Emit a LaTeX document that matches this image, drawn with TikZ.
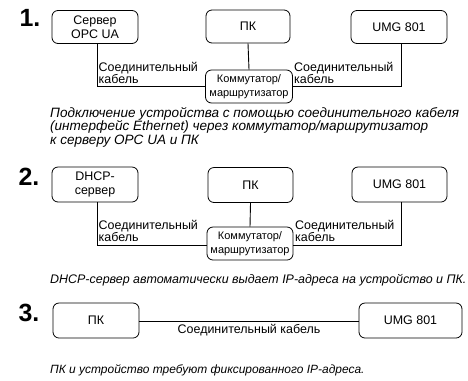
\documentclass[tikz,border=0pt]{standalone}
\usepackage{fontspec}
\setmainfont{Liberation Sans}
\begin{document}
\begin{tikzpicture}[x=1bp,y=-1bp,
  box/.style={draw, rounded corners=6bp, line width=0.8bp, inner sep=0pt, align=center, font=\fontsize{12.5}{14.5}\selectfont},
  swbox/.style={draw, rounded corners=6bp, line width=0.8bp, inner sep=0pt, align=center, font=\fontsize{11}{14.5}\selectfont, fill=white},
  wire/.style={line width=0.9bp},
  lbl/.style={inner sep=0pt, align=left, font=\fontsize{12.5}{12}\selectfont},
  captxt/.style={inner sep=0pt, align=left, font=\fontsize{12.5}{12.5}\selectfont\itshape},
  num/.style={inner sep=0pt, font=\fontsize{25}{25}\selectfont\bfseries}]
\useasboundingbox (0,0) rectangle (468,380);
% Section 1
\node[num] (n1) at (30,17.5) {1.};
\node[box, minimum width=86bp, minimum height=33bp] (s1a) at (95,27) {Сервер\\OPC UA};
\node[box, minimum width=84bp, minimum height=33bp] (s1b) at (248,26.5) {ПК};
\node[box, minimum width=96bp, minimum height=33bp] (s1c) at (399,27) {UMG 801};
\node[swbox, minimum width=87bp, minimum height=33bp] (s1s) at (249,86.5) {Коммутатор/\\маршрутизатор};
\draw[wire] ([xshift=2bp]s1a.south) |- (s1s.west);
\draw[wire] (s1b.south) -- (s1s.north);
\draw[wire] ([xshift=2bp]s1c.south) |- (s1s.east);
\node[lbl, anchor=south west] (l1a) at (98.5,84) {Соединительный\\кабель};
\node[lbl, anchor=south west] (l1b) at (294,84) {Соединительный\\кабель};
\node[captxt, font=\fontsize{13.6}{13.8}\selectfont\itshape, anchor=north west] (c1) at (50,107) {Подключение устройства с помощью соединительного кабеля\\(интерфейс Ethernet) через коммутатор/маршрутизатор\\к серверу OPC UA и ПК};
% Section 2
\node[num] (n2) at (29,177) {2.};
\node[box, minimum width=86bp, minimum height=35bp] (s2a) at (95,184.5) {DHCP-\\сервер};
\node[box, minimum width=85bp, minimum height=35bp] (s2b) at (250.5,185) {ПК};
\node[box, minimum width=95bp, minimum height=35bp] (s2c) at (399.5,184.5) {UMG 801};
\node[swbox, minimum width=86bp, minimum height=33bp] (s2s) at (250,243.5) {Коммутатор/\\маршрутизатор};
\draw[wire] ([xshift=2bp]s2a.south) |- ([yshift=-1.5bp]s2s.west);
\draw[wire] (s2b.south) -- (s2s.north);
\draw[wire] ([xshift=2bp]s2c.south) |- ([yshift=-1.5bp]s2s.east);
\node[lbl, anchor=south west] (l2a) at (98.5,241.5) {Соединительный\\кабель};
\node[lbl, anchor=south west] (l2b) at (295,241.5) {Соединительный\\кабель};
\node[captxt, anchor=west] (c2) at (50,280) {DHCP-сервер автоматически выдает IP-адреса на устройство и ПК.};
% Section 3
\node[num] (n3) at (29,313) {3.};
\node[box, minimum width=86bp, minimum height=35bp] (s3a) at (96,320.5) {ПК};
\node[box, minimum width=103bp, minimum height=35bp] (s3b) at (410.5,320.5) {UMG 801};
\draw[wire] ([yshift=-0.5bp]s3a.east) -- ([yshift=-0.5bp]s3b.west) node[midway, below=3bp, inner sep=0pt, font=\fontsize{12.5}{12}\selectfont] (l3) {Соединительный кабель};
\node[captxt, font=\fontsize{12}{12}\selectfont\itshape, anchor=west] (c3) at (50,370) {ПК и устройство требуют фиксированного IP-адреса.};
\end{tikzpicture}
\end{document}
